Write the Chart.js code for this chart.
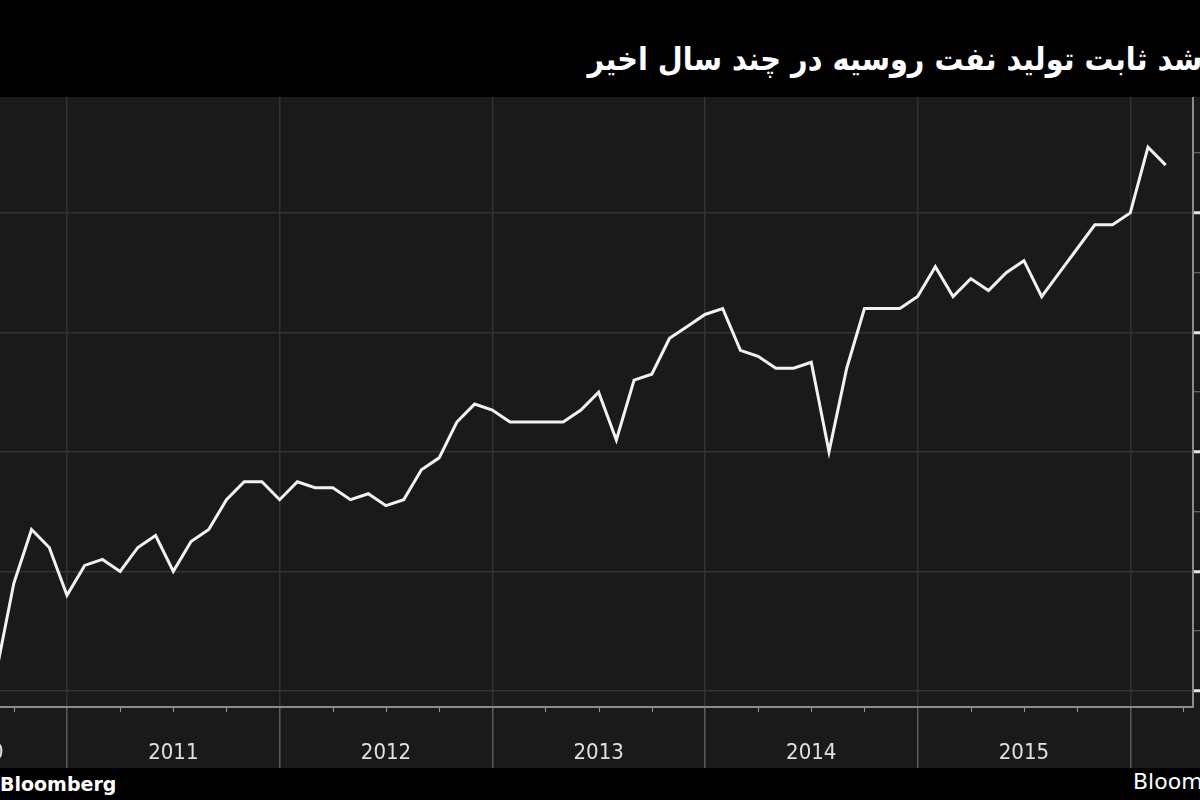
<!DOCTYPE html>
<html>
<head>
<meta charset="utf-8">
<script src="https://cdn.jsdelivr.net/npm/chart.js@4/dist/chart.umd.min.js"></script>
<style>
  html, body { margin: 0; padding: 0; }
  body { width: 1200px; height: 800px; background: #000; position: relative; overflow: hidden; }
  #title {
    position: absolute; top: 40px; right: -19px;
    font: bold 32px 'DejaVu Sans Condensed', 'DejaVu Sans', sans-serif; color: #fff;
    direction: rtl; white-space: nowrap;
  }
  #panel { position: absolute; left: 0; top: 97px; width: 1200px; height: 671px; background: #1a1a1a; }
  .src { position: absolute; color: #fff; font-family: 'DejaVu Sans', sans-serif; white-space: nowrap; }
</style>
</head>
<body>
<div id="title">رشد ثابت تولید نفت روسیه در چند سال اخیر</div>
<div id="panel"><canvas id="chart"></canvas></div>
<div class="src" style="left:0; top:773px; font-size:19px; font-weight:bold;">Bloomberg</div>
<div class="src" style="left:1133px; top:769px; font-size:22px;">Bloomberg</div>

<script>
'use strict';

// ── Data: Russian crude output, million barrels/day (monthly) ──
const months = [
  '2010-09','2010-10','2010-11','2010-12',
  '2011-01','2011-02','2011-03','2011-04','2011-05','2011-06','2011-07','2011-08','2011-09','2011-10','2011-11','2011-12',
  '2012-01','2012-02','2012-03','2012-04','2012-05','2012-06','2012-07','2012-08','2012-09','2012-10','2012-11','2012-12',
  '2013-01','2013-02','2013-03','2013-04','2013-05','2013-06','2013-07','2013-08','2013-09','2013-10','2013-11','2013-12',
  '2014-01','2014-02','2014-03','2014-04','2014-05','2014-06','2014-07','2014-08','2014-09','2014-10','2014-11','2014-12',
  '2015-01','2015-02','2015-03','2015-04','2015-05','2015-06','2015-07','2015-08','2015-09','2015-10','2015-11','2015-12',
  '2016-01','2016-02','2016-03'
];
const output = [
  10.03, 10.18, 10.27, 10.24,
  10.16, 10.21, 10.22, 10.20, 10.24, 10.26, 10.20, 10.25, 10.27, 10.32, 10.35, 10.35,
  10.32, 10.35, 10.34, 10.34, 10.32, 10.33, 10.31, 10.32, 10.37, 10.39, 10.45, 10.48,
  10.47, 10.45, 10.45, 10.45, 10.45, 10.47, 10.50, 10.42, 10.52, 10.53, 10.59, 10.61,
  10.63, 10.64, 10.57, 10.56, 10.54, 10.54, 10.55, 10.40, 10.54, 10.64, 10.64, 10.64,
  10.66, 10.71, 10.66, 10.69, 10.67, 10.70, 10.72, 10.66, 10.70, 10.74, 10.78, 10.78,
  10.80, 10.91, 10.88
];
const years = ['2010', '2011', '2012', '2013', '2014', '2015'];
const yTicks = [10.0, 10.1, 10.2, 10.3, 10.4, 10.5, 10.6, 10.7, 10.8, 10.9];

// ── Helpers ──────────────────────────────────────────
const BASE_YEAR = 2010;
function monthIndex(s) {                       // months since Jan 2010
  const [y, m] = s.split('-').map(Number);
  return (y - BASE_YEAR) * 12 + (m - 1);
}
const SOURCE_START = 2;                        // source chart began ~Mar 2010 (cropped off)
const X_MIN = 8.22, X_MAX = 75.54;             // visible window of the crop
const Y_MIN = 9.973, Y_MAX = 10.994;

const GRID = '#333333';
const AXIS = '#8a8a8a';

// quarter ticks for the time axis
const quarterTicks = [];
for (let q = 9; q <= 75; q += 3) quarterTicks.push(q);

// ── Plugin: quarter marks + year labels under the axis ──
const yearAxis = {
  id: 'yearAxis',
  afterDraw(chart) {
    const { ctx } = chart;
    const xs = chart.scales.x;
    const bottom = chart.chartArea.bottom;
    ctx.save();
    ctx.strokeStyle = '#9a9a9a';
    ctx.lineWidth = 1;
    quarterTicks.forEach(v => {
      if (v % 12 === 0) return;
      const px = Math.round(xs.getPixelForValue(v)) + 0.5;
      ctx.beginPath();
      ctx.moveTo(px, bottom + 1);
      ctx.lineTo(px, bottom + 5);
      ctx.stroke();
    });
    ctx.fillStyle = '#e0e0e0';
    ctx.font = '22px "DejaVu Sans Condensed", "DejaVu Sans", sans-serif';
    ctx.textAlign = 'center';
    ctx.textBaseline = 'middle';
    years.forEach((label, i) => {
      const start = Math.max(i * 12, SOURCE_START);
      const end = (i + 1) * 12;
      const px = xs.getPixelForValue((start + end) / 2);
      ctx.fillText(label, px, bottom + 46);
    });
    ctx.restore();
  }
};

// ── Chart ────────────────────────────────────────────
const points = months.map((m, i) => ({ x: monthIndex(m), y: output[i] }));

new Chart(document.getElementById('chart').getContext('2d'), {
  type: 'line',
  data: {
    datasets: [{
      data: points,
      borderColor: '#f2f2f2',
      borderWidth: 3,
      pointRadius: 0,
      tension: 0,
    }],
  },
  options: {
    responsive: true,
    maintainAspectRatio: false,
    animation: false,
    layout: { padding: 0 },
    plugins: { legend: { display: false }, tooltip: { enabled: false } },
    scales: {
      x: {
        type: 'linear',
        min: X_MIN,
        max: X_MAX,
        afterBuildTicks: s => { s.ticks = quarterTicks.map(v => ({ value: v })); },
        ticks: { display: false },
        grid: {
          color: c => (c.tick && c.tick.value % 12 === 0) ? GRID : 'transparent',
          tickColor: c => (c.tick && c.tick.value % 12 === 0) ? '#5a5a5a' : 'transparent',
          tickLength: 61,
          lineWidth: 1.5,
        },
        border: { display: true, color: AXIS, width: 2 },
      },
      y: {
        position: 'right',
        min: Y_MIN,
        max: Y_MAX,
        afterBuildTicks: s => { s.ticks = yTicks.map(v => ({ value: v })); },
        ticks: { display: false },
        grid: {
          color: c => (c.tick && Math.round(c.tick.value * 10) % 2 === 0) ? GRID : 'transparent',
          tickColor: c => (c.tick && Math.round(c.tick.value * 10) % 2 === 0) ? '#e6e6e6' : '#777',
          tickLength: 7,
          tickWidth: c => (c.tick && Math.round(c.tick.value * 10) % 2 === 0) ? 3 : 1,
          lineWidth: 1.5,
        },
        border: { display: true, color: AXIS, width: 2 },
      },
    },
  },
  plugins: [yearAxis],
});
</script>
</body>
</html>
